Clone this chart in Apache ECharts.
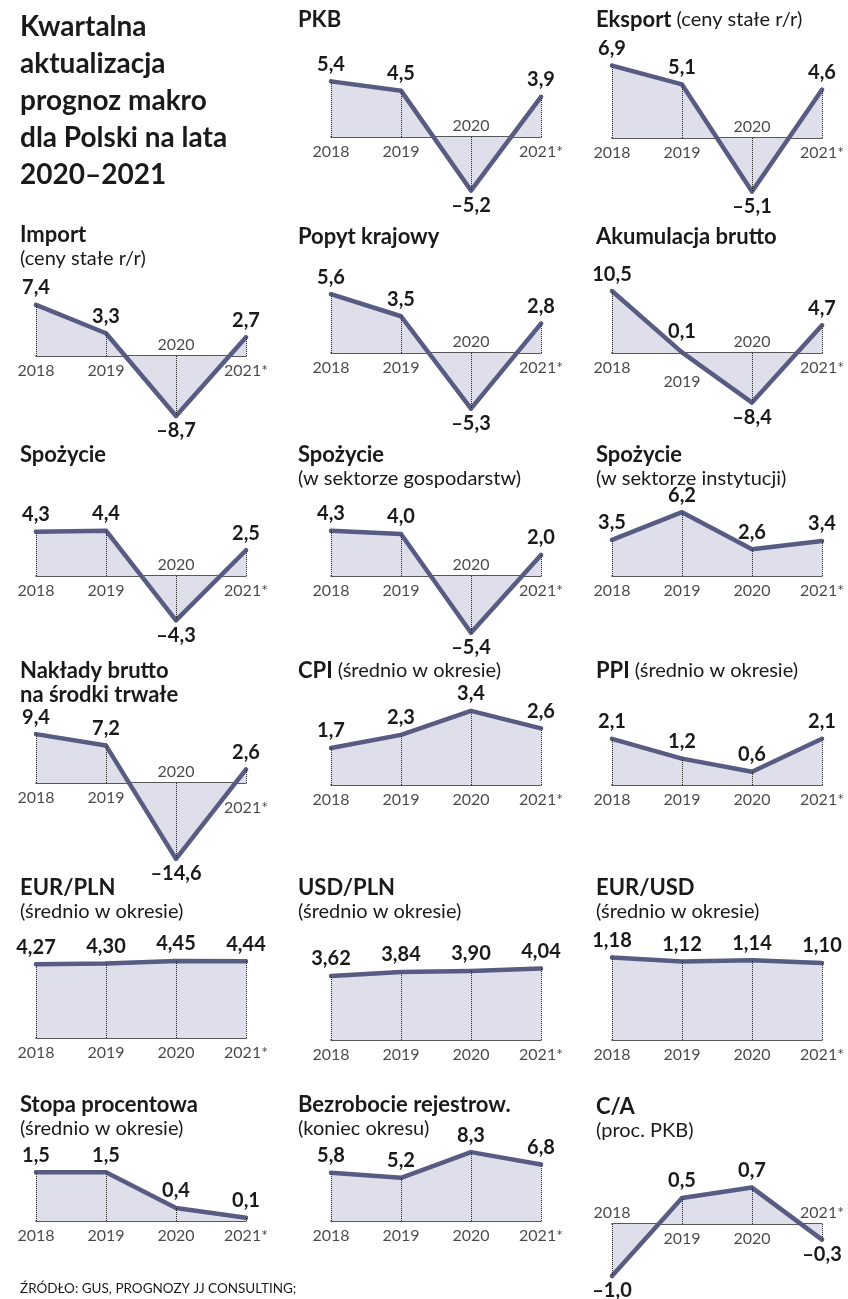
<!DOCTYPE html>
<html><head><meta charset="utf-8">
<script src="https://cdn.jsdelivr.net/npm/echarts@6/dist/echarts.min.js"></script>
<style>html,body{margin:0;padding:0;background:#fff}#c{width:848px;height:1299px}</style>
</head><body><div id="c"></div>
<script>
// ---- data ----
const years = ['2018', '2019', '2020', '2021*'];
const pkb = [5.4, 4.5, -5.2, 3.9];
const eksport = [6.9, 5.1, -5.1, 4.6];
const importData = [7.4, 3.3, -8.7, 2.7];
const popyt = [5.6, 3.5, -5.3, 2.8];
const akumulacja = [10.5, 0.1, -8.4, 4.7];
const spozycie = [4.3, 4.4, -4.3, 2.5];
const spozycieGosp = [4.3, 4.0, -5.4, 2.0];
const spozycieInst = [3.5, 6.2, 2.6, 3.4];
const naklady = [9.4, 7.2, -14.6, 2.6];
const cpi = [1.7, 2.3, 3.4, 2.6];
const ppi = [2.1, 1.2, 0.6, 2.1];
const eurpln = [4.27, 4.30, 4.45, 4.44];
const usdpln = [3.62, 3.84, 3.90, 4.04];
const eurusd = [1.18, 1.12, 1.14, 1.10];
const stopa = [1.5, 1.5, 0.4, 0.1];
const bezrobocie = [5.8, 5.2, 8.3, 6.8];
const ca = [-1.0, 0.5, 0.7, -0.3];

// ---- layout / style ----
const FONT = 'Lato';
const TXT = '#1a1a1a';
const LINE = '#585c82';
const FILL = '#dfdfeb';
const colLeft = [36, 331, 612];
const colTitleX = [20, 298, 596];
const plotW = 210;

const panels = [
  {t: '{b|PKB}', d: pkb, col: 1, base: 137, k: 10.3, tb: 25},
  {t: '{b|Eksport} {r|(ceny stałe r/r)}', d: eksport, col: 2, base: 138, k: 10.5, tb: 25},
  {t: '{b|Import}\n{r|(ceny stałe r/r)}', d: importData, col: 0, base: 356, k: 6.9, tb: 240},
  {t: '{b|Popyt krajowy}', d: popyt, col: 1, base: 353, k: 10.5, tb: 242},
  {t: '{b|Akumulacja brutto}', d: akumulacja, col: 2, base: 353, k: 5.9, tb: 242, yShift: [0, 14, 0, 0], vShift: [0, 4, 0, 0]},
  {t: '{b|Spożycie}', d: spozycie, col: 0, base: 576, k: 10.3, tb: 460},
  {t: '{b|Spożycie}\n{r|(w sektorze gospodarstw)}', d: spozycieGosp, col: 1, base: 576, k: 10.5, tb: 460},
  {t: '{b|Spożycie}\n{r|(w sektorze instytucji)}', d: spozycieInst, col: 2, base: 576, k: 10.3, tb: 460},
  {t: '{b|Nakłady brutto}\n{b|na środki trwałe}', d: naklady, col: 0, base: 783, k: 5.2, tb: 676, yShift: [0, 0, 0, 10]},
  {t: '{b|CPI} {r|(średnio w okresie)}', d: cpi, col: 1, base: 785, k: 21.8, tb: 676},
  {t: '{b|PPI} {r|(średnio w okresie)}', d: ppi, col: 2, base: 785, k: 22, tb: 676},
  {t: '{b|EUR/PLN}\n{r|(średnio w okresie)}', d: eurpln, col: 0, base: 1038, k: 17.3, tb: 893, dec: 2},
  {t: '{b|USD/PLN}\n{r|(średnio w okresie)}', d: usdpln, col: 1, base: 1040, k: 17.7, tb: 893, dec: 2},
  {t: '{b|EUR/USD}\n{r|(średnio w okresie)}', d: eurusd, col: 2, base: 1040, k: 70, tb: 893, dec: 2},
  {t: '{b|Stopa procentowa}\n{r|(średnio w okresie)}', d: stopa, col: 0, base: 1221, k: 32.5, tb: 1110},
  {t: '{b|Bezrobocie rejestrow.}\n{r|(koniec okresu)}', d: bezrobocie, col: 1, base: 1221, k: 8.3, tb: 1110},
  {t: '{b|C/A}\n{r|(proc. PKB)}', d: ca, col: 2, base: 1224, k: 52, tb: 1112}
];

function fmt(v, dec) {
  return (v < 0 ? '\u2013' : '') + Math.abs(v).toFixed(dec).replace('.', ',');
}

const grids = [], xAxes = [], yAxes = [], series = [];
const titles = [{
  left: 20, top: 8, padding: 0,
  text: 'Kwartalna\naktualizacja\nprognoz makro\ndla Polski na lata\n2020\u20132021',
  textStyle: {fontFamily: FONT, fontSize: 28, fontWeight: 'bold', color: TXT, lineHeight: 37}
}, {
  left: 20, top: 1282, padding: 0,
  text: 'ŹRÓDŁO: GUS, PROGNOZY JJ CONSULTING;',
  textStyle: {fontFamily: FONT, fontSize: 13.5, fontWeight: 'normal', color: TXT}
}];

panels.forEach((p, idx) => {
  const dec = p.dec || 1;
  const mn = Math.min(0, ...p.d), mx = Math.max(0, ...p.d);
  grids.push({left: colLeft[p.col], width: plotW, top: p.base - p.k * mx, height: p.k * (mx - mn)});
  xAxes.push({
    gridIndex: idx, type: 'category', data: years, boundaryGap: false,
    axisLine: {show: true, onZero: true, lineStyle: {color: '#222', width: 1.5}},
    axisTick: {show: false}, axisLabel: {show: false}, splitLine: {show: false}
  });
  yAxes.push({gridIndex: idx, type: 'value', min: mn, max: mx, show: false, splitLine: {show: false}});
  titles.push({
    left: colTitleX[p.col], top: p.tb - 17, text: p.t, padding: 0,
    textStyle: {
      rich: {
        b: {fontFamily: FONT, fontSize: 22, fontWeight: 'bold', color: TXT, lineHeight: 24},
        r: {fontFamily: FONT, fontSize: 20, fontWeight: 'normal', color: TXT, lineHeight: 24}
      }
    }
  });
  const vs = p.vShift || [0, 0, 0, 0];
  series.push({
    type: 'line', xAxisIndex: idx, yAxisIndex: idx, clip: false, z: 3,
    symbol: 'circle', symbolSize: 4, showSymbol: true, smooth: false,
    itemStyle: {color: LINE},
    lineStyle: {color: LINE, width: 4.5, cap: 'round', join: 'round'},
    areaStyle: {color: FILL, opacity: 1},
    data: p.d.map((v, i) => ({
      value: v,
      label: {show: true, position: v >= 0 ? 'top' : 'bottom', distance: v >= 0 ? 5 : 3, offset: [0, -vs[i]]}
    })),
    label: {
      show: true, fontFamily: FONT, fontSize: 20, fontWeight: 'bold', color: TXT,
      formatter: (o) => fmt(o.value, dec)
    },
    markLine: {
      silent: true, symbol: 'none', animation: false, z: 5,
      lineStyle: {type: 'dotted', color: '#222', width: 1},
      label: {show: false},
      emphasis: {disabled: true},
      data: p.d.map((v, i) => [{coord: [years[i], 0]}, {coord: [years[i], v]}])
    }
  });
  const ys = p.yShift || [0, 0, 0, 0];
  series.push({
    type: 'scatter', xAxisIndex: idx, yAxisIndex: idx, symbolSize: 1, z: 6,
    itemStyle: {color: 'rgba(0,0,0,0)'}, silent: true,
    data: p.d.map((v, i) => ({
      value: [i, 0],
      label: {position: v >= 0 ? 'bottom' : 'top', distance: v >= 0 ? 6 : 3, offset: [0, ys[i]]}
    })),
    label: {
      show: true, fontFamily: FONT, fontSize: 16, color: TXT,
      formatter: (o) => years[o.dataIndex]
    }
  });
});

const chart = echarts.init(document.getElementById('c'), null, {renderer: 'canvas'});
chart.setOption({animation: false, title: titles, grid: grids, xAxis: xAxes, yAxis: yAxes, series: series});
</script>
</body></html>
